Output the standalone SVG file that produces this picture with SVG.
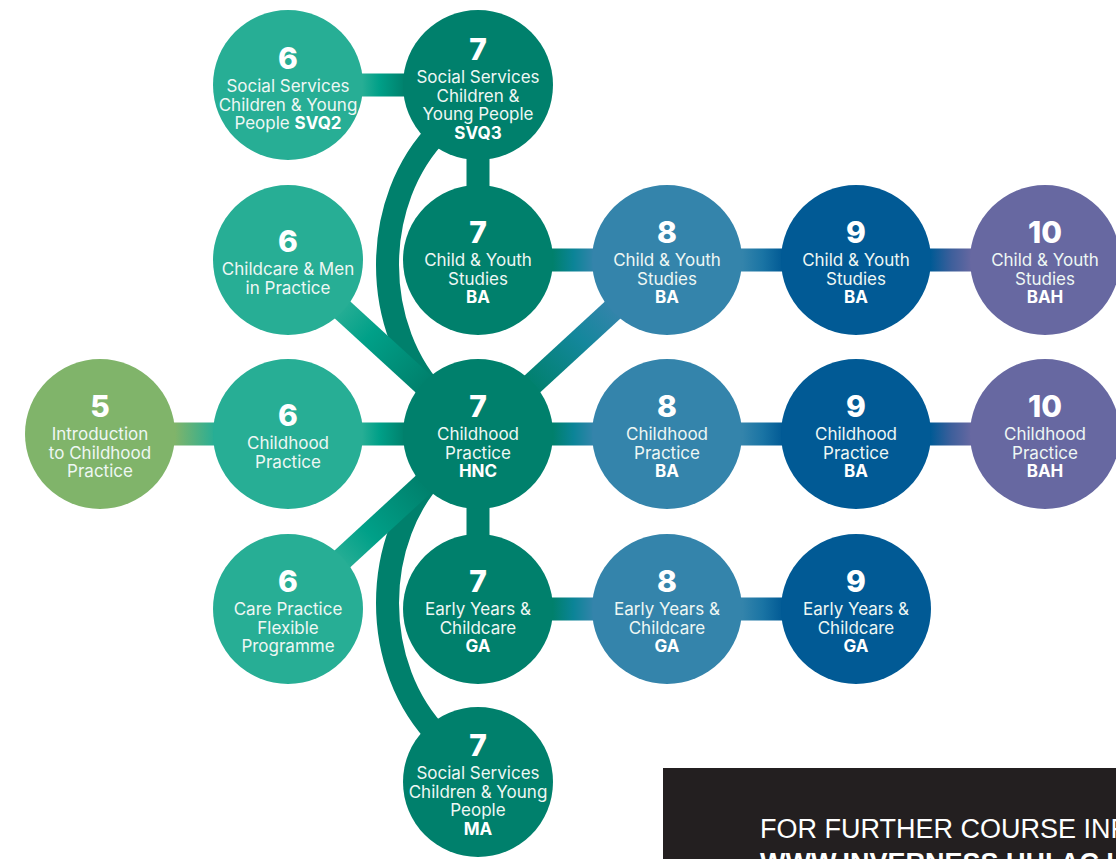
<svg xmlns="http://www.w3.org/2000/svg" width="1116" height="859" viewBox="0 0 1116 859">
<style>
.num{font-family:Inter,"Liberation Sans",sans-serif;font-weight:800;font-size:30px;fill:#fff;text-anchor:middle}
.lb{font-family:Inter,"Liberation Sans",sans-serif;font-weight:400;font-size:17px;fill:#eef7f4;text-anchor:middle}
.b{font-weight:700;fill:#fff}
.c{stroke-width:23;fill:none;stroke-linecap:butt}
.solid{stroke:#00806c}
.l5{fill:#80b46a}.l6{fill:#27ae95}.l7{fill:#00806c}.l8{fill:#3484ab}.l9{fill:#015a95}.l10{fill:#6768a1}
</style>
<defs>
<linearGradient id="g56" gradientUnits="userSpaceOnUse" x1="175" y1="0" x2="215" y2="0"><stop offset="0" stop-color="#80b46a"/><stop offset="1" stop-color="#27ae95"/></linearGradient>
<linearGradient id="g67" gradientUnits="userSpaceOnUse" x1="362" y1="0" x2="405" y2="0"><stop offset="0" stop-color="#27ae95"/><stop offset="0.4" stop-color="#00a088"/><stop offset="1" stop-color="#00806c"/></linearGradient>
<linearGradient id="g78" gradientUnits="userSpaceOnUse" x1="553" y1="0" x2="594" y2="0"><stop offset="0" stop-color="#00806c"/><stop offset="0.5" stop-color="#0b8497"/><stop offset="1" stop-color="#3484ab"/></linearGradient>
<linearGradient id="g89" gradientUnits="userSpaceOnUse" x1="742" y1="0" x2="783" y2="0"><stop offset="0" stop-color="#3484ab"/><stop offset="0.5" stop-color="#1a74a4"/><stop offset="1" stop-color="#015a95"/></linearGradient>
<linearGradient id="g910" gradientUnits="userSpaceOnUse" x1="931" y1="0" x2="972" y2="0"><stop offset="0" stop-color="#015a95"/><stop offset="0.5" stop-color="#3e5f9b"/><stop offset="1" stop-color="#6768a1"/></linearGradient>
<linearGradient id="gdA" gradientUnits="userSpaceOnUse" x1="340" y1="308" x2="425" y2="386"><stop offset="0" stop-color="#27ae95"/><stop offset="0.35" stop-color="#00a088"/><stop offset="1" stop-color="#00806c"/></linearGradient>
<linearGradient id="gdB" gradientUnits="userSpaceOnUse" x1="340" y1="561" x2="425" y2="483"><stop offset="0" stop-color="#27ae95"/><stop offset="0.35" stop-color="#00a088"/><stop offset="1" stop-color="#00806c"/></linearGradient>
<linearGradient id="gdC" gradientUnits="userSpaceOnUse" x1="530" y1="386" x2="615" y2="308"><stop offset="0" stop-color="#00806c"/><stop offset="0.6" stop-color="#14879c"/><stop offset="1" stop-color="#3484ab"/></linearGradient>
</defs>

<g id="connectors">
  <path class="c solid" d="M440 130 C370 200 370 330 440 400"/>
  <path class="c solid" d="M440 468 C370 538 370 668 440 738"/>
  <line class="c solid" x1="478" y1="85" x2="478" y2="260"/>
  <line class="c solid" x1="478" y1="434" x2="478" y2="609"/>
  <line class="c" stroke="url(#g67)" x1="288" y1="85" x2="478" y2="85"/>
  <line class="c" stroke="url(#gdA)" x1="288" y1="260" x2="478" y2="434"/>
  <line class="c" stroke="url(#gdB)" x1="288" y1="609" x2="478" y2="434"/>
  <line class="c" stroke="url(#gdC)" x1="478" y1="434" x2="667" y2="260"/>
  <line class="c" stroke="url(#g56)" x1="100" y1="434" x2="288" y2="434"/>
  <line class="c" stroke="url(#g67)" x1="288" y1="434" x2="478" y2="434"/>
  <line class="c" stroke="url(#g78)" x1="478" y1="434" x2="667" y2="434"/>
  <line class="c" stroke="url(#g89)" x1="667" y1="434" x2="856" y2="434"/>
  <line class="c" stroke="url(#g910)" x1="856" y1="434" x2="1045" y2="434"/>
  <line class="c" stroke="url(#g78)" x1="478" y1="260" x2="667" y2="260"/>
  <line class="c" stroke="url(#g89)" x1="667" y1="260" x2="856" y2="260"/>
  <line class="c" stroke="url(#g910)" x1="856" y1="260" x2="1045" y2="260"/>
  <line class="c" stroke="url(#g78)" x1="478" y1="609" x2="667" y2="609"/>
  <line class="c" stroke="url(#g89)" x1="667" y1="609" x2="856" y2="609"/>
</g>

<g id="n5-intro">
  <circle class="l5" cx="100" cy="434" r="75"/>
  <text class="num" x="100" y="417">5</text>
  <text class="lb" x="100" y="440">Introduction</text>
  <text class="lb" x="100" y="458.5">to Childhood</text>
  <text class="lb" x="100" y="477">Practice</text>
</g>

<g id="n6-svq2">
  <circle class="l6" cx="288" cy="85" r="75"/>
  <text class="num" x="288" y="69">6</text>
  <text class="lb" x="288" y="92">Social Services</text>
  <text class="lb" x="288" y="110.5">Children &amp; Young</text>
  <text class="lb" x="288" y="129">People <tspan class="b">SVQ2</tspan></text>
</g>

<g id="n7-svq3">
  <circle class="l7" cx="478" cy="85" r="75"/>
  <text class="num" x="478" y="60">7</text>
  <text class="lb" x="478" y="83">Social Services</text>
  <text class="lb" x="478" y="101.5">Children &amp;</text>
  <text class="lb" x="478" y="120">Young People</text>
  <text class="lb b" x="478" y="138.5">SVQ3</text>
</g>

<g id="n6-men">
  <circle class="l6" cx="288" cy="260" r="75"/>
  <text class="num" x="288" y="252">6</text>
  <text class="lb" x="288" y="275">Childcare &amp; Men</text>
  <text class="lb" x="288" y="293.5">in Practice</text>
</g>

<g id="n7-cys">
  <circle class="l7" cx="478" cy="260" r="75"/>
  <text class="num" x="478" y="243">7</text>
  <text class="lb" x="478" y="266">Child &amp; Youth</text>
  <text class="lb" x="478" y="284.5">Studies</text>
  <text class="lb b" x="478" y="303">BA</text>
</g>

<g id="n8-cys">
  <circle class="l8" cx="667" cy="260" r="75"/>
  <text class="num" x="667" y="243">8</text>
  <text class="lb" x="667" y="266">Child &amp; Youth</text>
  <text class="lb" x="667" y="284.5">Studies</text>
  <text class="lb b" x="667" y="303">BA</text>
</g>

<g id="n9-cys">
  <circle class="l9" cx="856" cy="260" r="75"/>
  <text class="num" x="856" y="243">9</text>
  <text class="lb" x="856" y="266">Child &amp; Youth</text>
  <text class="lb" x="856" y="284.5">Studies</text>
  <text class="lb b" x="856" y="303">BA</text>
</g>

<g id="n10-cys">
  <circle class="l10" cx="1045" cy="260" r="75"/>
  <text class="num" x="1045" y="243">10</text>
  <text class="lb" x="1045" y="266">Child &amp; Youth</text>
  <text class="lb" x="1045" y="284.5">Studies</text>
  <text class="lb b" x="1045" y="303">BAH</text>
</g>

<g id="n6-cp">
  <circle class="l6" cx="288" cy="434" r="75"/>
  <text class="num" x="288" y="426">6</text>
  <text class="lb" x="288" y="449">Childhood</text>
  <text class="lb" x="288" y="467.5">Practice</text>
</g>

<g id="n7-hnc">
  <circle class="l7" cx="478" cy="434" r="75"/>
  <text class="num" x="478" y="417">7</text>
  <text class="lb" x="478" y="440">Childhood</text>
  <text class="lb" x="478" y="458.5">Practice</text>
  <text class="lb b" x="478" y="477">HNC</text>
</g>

<g id="n8-cp">
  <circle class="l8" cx="667" cy="434" r="75"/>
  <text class="num" x="667" y="417">8</text>
  <text class="lb" x="667" y="440">Childhood</text>
  <text class="lb" x="667" y="458.5">Practice</text>
  <text class="lb b" x="667" y="477">BA</text>
</g>

<g id="n9-cp">
  <circle class="l9" cx="856" cy="434" r="75"/>
  <text class="num" x="856" y="417">9</text>
  <text class="lb" x="856" y="440">Childhood</text>
  <text class="lb" x="856" y="458.5">Practice</text>
  <text class="lb b" x="856" y="477">BA</text>
</g>

<g id="n10-cp">
  <circle class="l10" cx="1045" cy="434" r="75"/>
  <text class="num" x="1045" y="417">10</text>
  <text class="lb" x="1045" y="440">Childhood</text>
  <text class="lb" x="1045" y="458.5">Practice</text>
  <text class="lb b" x="1045" y="477">BAH</text>
</g>

<g id="n6-care">
  <circle class="l6" cx="288" cy="609" r="75"/>
  <text class="num" x="288" y="592">6</text>
  <text class="lb" x="288" y="615">Care Practice</text>
  <text class="lb" x="288" y="633.5">Flexible</text>
  <text class="lb" x="288" y="652">Programme</text>
</g>

<g id="n7-ey">
  <circle class="l7" cx="478" cy="609" r="75"/>
  <text class="num" x="478" y="592">7</text>
  <text class="lb" x="478" y="615">Early Years &amp;</text>
  <text class="lb" x="478" y="633.5">Childcare</text>
  <text class="lb b" x="478" y="652">GA</text>
</g>

<g id="n8-ey">
  <circle class="l8" cx="667" cy="609" r="75"/>
  <text class="num" x="667" y="592">8</text>
  <text class="lb" x="667" y="615">Early Years &amp;</text>
  <text class="lb" x="667" y="633.5">Childcare</text>
  <text class="lb b" x="667" y="652">GA</text>
</g>

<g id="n9-ey">
  <circle class="l9" cx="856" cy="609" r="75"/>
  <text class="num" x="856" y="592">9</text>
  <text class="lb" x="856" y="615">Early Years &amp;</text>
  <text class="lb" x="856" y="633.5">Childcare</text>
  <text class="lb b" x="856" y="652">GA</text>
</g>

<g id="n7-ma">
  <circle class="l7" cx="478" cy="782" r="75"/>
  <text class="num" x="478" y="756">7</text>
  <text class="lb" x="478" y="779">Social Services</text>
  <text class="lb" x="478" y="797.5">Children &amp; Young</text>
  <text class="lb" x="478" y="816">People</text>
  <text class="lb b" x="478" y="834.5">MA</text>
</g>

<g id="info-box">
  <rect x="663" y="768" width="460" height="100" fill="#231f20"/>
  <text x="760" y="838" font-family="'Liberation Sans',Arial,sans-serif" font-size="27" fill="#fff">FOR FURTHER COURSE INFORMATION</text>
  <text x="760" y="872" font-family="'Liberation Sans',Arial,sans-serif" font-size="27" font-weight="700" fill="#fff">WWW.INVERNESS.UHI.AC.UK</text>
</g>
</svg>
